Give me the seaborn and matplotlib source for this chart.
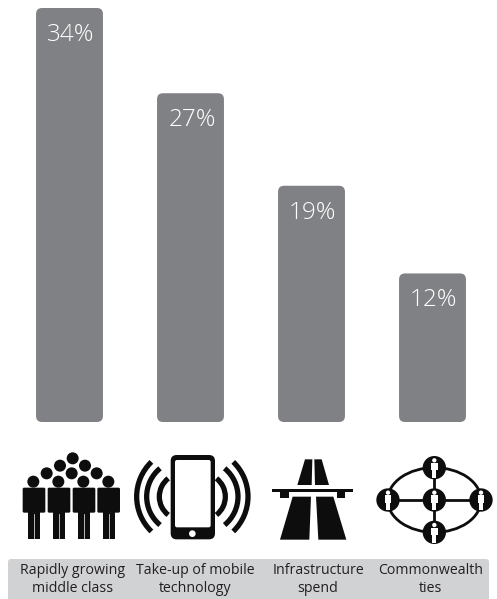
import matplotlib
matplotlib.use('Agg')
import matplotlib.pyplot as plt
import pandas as pd
import seaborn as sns
from matplotlib.patches import Arc, Circle, Ellipse, FancyBboxPatch, Polygon, Rectangle

categories = ['Rapidly growing\nmiddle class', 'Take-up of mobile\ntechnology', 'Infrastructure\nspend', 'Commonwealth\nties']
values = [34, 27, 19.4, 12.2]
value_labels = ['34%', '27%', '19%', '12%']

BAR = '#808184'
BAND = '#d1d2d4'
INK = '#0d0d0d'
FONT = 'Open Sans'

plt.rcParams['font.family'] = [FONT, 'DejaVu Sans']

W, H = 497, 599
fig = plt.figure(figsize=(W / 100, H / 100), dpi=100, facecolor='white')

# overlay in picture pixels, for band + icons
bg = fig.add_axes([0, 0, 1, 1], zorder=0)
bg.set_xlim(0, W)
bg.set_ylim(H, 0)
bg.axis('off')

# bars
ax = fig.add_axes([9 / W, (H - 422) / H, 484 / W, 414 / H], zorder=1)
ax.patch.set_alpha(0)
df = pd.DataFrame({'cat': categories, 'val': values})
sns.barplot(data=df, x='cat', y='val', color=BAR, saturation=1, width=0.553, ax=ax)
ax.set_xlim(-0.5, 3.5)
ax.set_ylim(0, 34)
ax.axis('off')

# swap square bars for rounded ones, same geometry
fig.canvas.draw()
for bar, lab, v, i in zip(list(ax.patches), value_labels, values, range(4)):
    x0, y0 = ax.transData.transform((bar.get_x(), 0))
    x1, y1 = ax.transData.transform((bar.get_x() + bar.get_width(), bar.get_height()))
    bar.set_visible(False)
    bg.add_patch(FancyBboxPatch((x0, H - y1), x1 - x0, y1 - y0, boxstyle='round,pad=0,rounding_size=6',
                                fc=BAR, ec='none'))
    ax.annotate(lab, (i, v), xytext=(1, -27 * 0.72), textcoords='offset points', ha='center', va='center',
                color='white', fontsize=17.5, fontweight='light', annotation_clip=False)

# label band
bg.add_patch(FancyBboxPatch((8, 559), 481, 60, boxstyle='round,pad=0,rounding_size=3', fc=BAND, ec='none', clip_on=True))
for lab, x in zip(categories, [73, 195, 318, 431]):
    bg.text(x, 579.5, lab, ha='center', va='center', fontsize=10.2, color='#231f20', linespacing=1.22)


def zx(x, off=0):
    return off + x / 3


def zy(y):
    return 440 + y / 3


def poly(pts, off=0, color=INK):
    bg.add_patch(Polygon([(zx(x, off), zy(y)) for x, y in pts], fc=color, ec='none'))


def rect(x0, y0, x1, y1, off=0, color=INK):
    bg.add_patch(Rectangle((zx(x0, off), zy(y0)), (x1 - x0) / 3, (y1 - y0) / 3, fc=color, ec='none'))


def dot(x, y, r, off=0, color=INK):
    bg.add_patch(Circle((zx(x, off), zy(y)), r / 3, fc=color, ec='none'))


# crowd
for x, y in [(218, 55), (180, 77), (255, 77), (140, 100), (290, 100), (215, 100),
             (100, 125), (175, 125), (250, 125), (325, 125)]:
    dot(x, y, 18)
for x in [102, 177, 252, 326]:
    bg.add_patch(FancyBboxPatch((zx(x - 34), zy(143)), 68 / 3, 25, boxstyle='round,pad=0,rounding_size=1.5',
                                fc=INK, ec='none'))
    rect(x - 18, 170, x + 18, 296)
    bg.plot([zx(x), zx(x)], [zy(222), zy(296)], color='white', lw=0.5)

# phone
bg.add_patch(FancyBboxPatch((zx(512), zy(45)), 133 / 3, 253 / 3, boxstyle='round,pad=0,rounding_size=6', fc=INK, ec='none'))
bg.add_patch(FancyBboxPatch((zx(525), zy(60)), 107 / 3, 202 / 3, boxstyle='round,pad=0,rounding_size=2', fc='white', ec='none'))
dot(577, 281, 10, color='white')
for r, cx, half in [(145, 555, 46), (110, 550, 50.6), (69.5, 547.5, 52)]:
    bg.add_patch(Arc((zx(cx), zy(170)), 2 * r / 3, 2 * r / 3, theta1=180 - half, theta2=180 + half, lw=3.8, color=INK))
    bg.add_patch(Arc((zx(2 * 577 - cx), zy(170)), 2 * r / 3, 2 * r / 3, theta1=-half, theta2=half, lw=3.8, color=INK))

# motorway
poly([(165, 58), (187, 58), (185, 135), (142, 135)], 250)
poly([(193, 58), (215, 58), (237, 135), (195, 135)], 250)
rect(66, 147, 309, 157, 250)
rect(90, 157, 118, 173, 250)
rect(260, 157, 286, 173, 250)
poly([(128, 170), (183, 170), (178, 299), (90, 299)], 250)
poly([(198, 170), (250, 170), (289, 299), (205, 299)], 250)

# network - links sit under the nodes
bg.add_patch(Ellipse((zx(553, 250), zy(180)), 280 / 3, 194 / 3, fc='none', ec=INK, lw=2, zorder=0.5))
bg.plot([zx(414, 250), zx(693, 250)], [zy(180), zy(180)], color=INK, lw=2, zorder=0.5)
bg.plot([zx(553, 250), zx(553, 250)], [zy(83), zy(277)], color=INK, lw=2, zorder=0.5)
for x, y in [(414, 180), (553, 180), (693, 180), (553, 83), (553, 277)]:
    dot(x, y, 35, 250)
    dot(x, y - 22, 6.5, 250, color='white')
    rect(x - 10, y - 14, x + 10, y + 8, 250, color='white')
    rect(x - 6, y + 8, x + 6, y + 31, 250, color='white')

fig.savefig('out.png', dpi=100)
